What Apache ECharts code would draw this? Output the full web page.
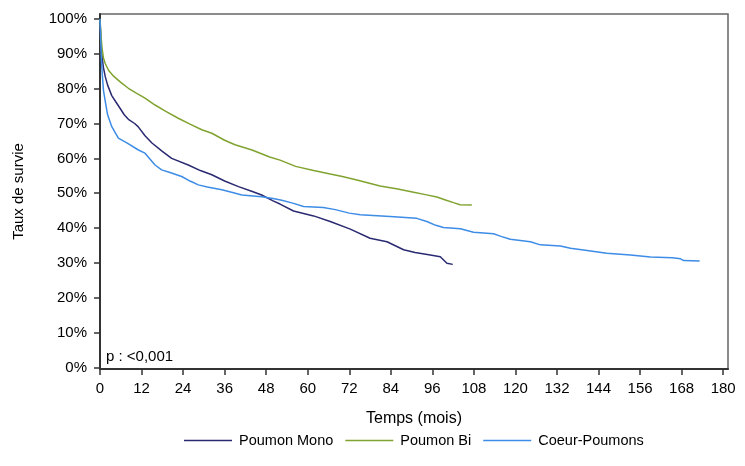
<!DOCTYPE html>
<html>
<head>
<meta charset="utf-8">
<script src="https://cdn.jsdelivr.net/npm/echarts@6/dist/echarts.min.js"></script>
<style>
  html, body { margin: 0; padding: 0; background: #fff; }
  #main { width: 745px; height: 466px; }
</style>
</head>
<body>
<div id="main"></div>
<script>
// survie (%) en fonction du temps (mois)
const monoMonths = [0, 0.3, 0.6, 1, 1.5, 2.2, 3.4, 4.5, 5.5, 7, 8.2, 10, 11, 13, 15, 18, 20.7, 25.5, 29, 32.3, 36, 40, 44, 46.7, 50, 52, 55.9, 61.7, 66.5, 72.3, 78, 82.9, 87.7, 91, 95.4, 98.3, 100.2, 101.9];
const monoSurv   = [100, 93, 89, 86, 83.5, 81, 78, 76.3, 74.8, 72.5, 71.2, 70, 69.1, 66.5, 64.4, 62, 60.0, 58.1, 56.5, 55.3, 53.5, 51.9, 50.5, 49.5, 47.8, 46.9, 44.9, 43.5, 41.9, 39.7, 37.1, 36.1, 33.8, 33.0, 32.3, 31.8, 29.9, 29.6];

const biMonths = [0, 0.3, 0.6, 1, 1.5, 2.5, 4, 6, 8.2, 10.5, 13, 15.9, 19, 22.6, 26, 29.4, 32.3, 36, 39, 43.9, 49, 52, 56.5, 61.7, 66.5, 70, 74.2, 80.9, 86, 90.6, 94, 97.3, 100, 102.1, 104, 107.4];
const biSurv   = [100, 95, 91.5, 88.8, 87.2, 85.2, 83.5, 81.8, 80.1, 78.7, 77.3, 75.3, 73.5, 71.5, 69.8, 68.2, 67.2, 65.2, 63.9, 62.4, 60.4, 59.5, 57.7, 56.5, 55.5, 54.8, 53.8, 52.1, 51.2, 50.3, 49.6, 48.9, 48.0, 47.3, 46.7, 46.6];

const cpMonths = [0, 0.2, 0.4, 0.7, 1, 1.5, 2.2, 3.4, 5.3, 8, 11.1, 13, 15.9, 17.8, 20, 23.6, 26, 28.4, 31, 35.2, 38, 41, 46.7, 50, 52.5, 55.9, 58.8, 64.5, 68, 72, 75.2, 83.8, 91.5, 94.4, 97, 99.2, 104.1, 107.9, 113.7, 115.6, 118.5, 124.3, 127.2, 133, 135.9, 140.7, 146.4, 153.2, 159, 165.3, 167.7, 168.6, 173.2];
const cpSurv   = [100, 94, 88.5, 83.5, 79.5, 76.5, 72.5, 69.1, 65.8, 64.3, 62.4, 61.5, 58.1, 56.7, 56, 54.8, 53.5, 52.4, 51.8, 51.0, 50.3, 49.5, 49.0, 48.5, 48.0, 47.1, 46.2, 45.9, 45.3, 44.3, 43.8, 43.3, 42.8, 41.9, 40.8, 40.2, 39.8, 38.8, 38.4, 37.7, 36.8, 36.1, 35.2, 34.9, 34.2, 33.6, 32.8, 32.3, 31.7, 31.5, 31.2, 30.7, 30.6];

const xTicks = [0, 12, 24, 36, 48, 60, 72, 84, 96, 108, 120, 132, 144, 156, 168, 180];
const yTicks = [0, 10, 20, 30, 40, 50, 60, 70, 80, 90, 100];

const pairs = (t, s) => t.map((v, i) => [v, s[i]]);

const font = 'Liberation Sans, Arial, sans-serif';

const chart = echarts.init(document.getElementById('main'));

const mkSerie = (name, color, data) => ({
  name: name,
  type: 'line',
  data: data,
  symbol: 'none',
  smooth: false,
  color: color,
  lineStyle: { width: 1.5, color: color },
  animation: false
});

chart.setOption({
  animation: false,
  textStyle: { fontFamily: font, color: '#000' },
  grid: {
    left: 100, right: 17, top: 14, bottom: 97,
    show: true, borderColor: '#666', borderWidth: 1.5, backgroundColor: '#fff'
  },
  legend: {
    left: 184,
    top: 433,
    padding: 0,
    icon: 'rect',
    itemWidth: 48,
    itemHeight: 1.5,
    itemGap: 12,
    textStyle: { fontFamily: font, fontSize: 14.5, color: '#000', padding: [0, 0, 0, 2] },
    data: ['Poumon Mono', 'Poumon Bi', 'Coeur-Poumons']
  },
  xAxis: {
    type: 'value',
    min: 0,
    max: 181.4,
    name: 'Temps (mois)',
    nameLocation: 'middle',
    nameGap: 42,
    nameTextStyle: { fontFamily: font, fontSize: 16, color: '#000' },
    axisLine: { show: true, onZero: false, lineStyle: { color: '#333', width: 2 } },
    axisTick: { show: true, length: 6, lineStyle: { color: '#333', width: 1.5 }, customValues: xTicks },
    axisLabel: { fontFamily: font, fontSize: 15, color: '#000', margin: 12, customValues: xTicks },
    splitLine: { show: false }
  },
  yAxis: {
    type: 'value',
    min: -0.4,
    max: 101.4,
    name: 'Taux de survie',
    nameLocation: 'middle',
    nameRotate: 90,
    nameGap: 74,
    nameTextStyle: { fontFamily: font, fontSize: 15, color: '#000' },
    axisLine: { show: true, onZero: false, lineStyle: { color: '#333', width: 2 } },
    axisTick: { show: true, length: 6, lineStyle: { color: '#333', width: 1.5 }, customValues: yTicks },
    axisLabel: { fontFamily: font, fontSize: 15, color: '#000', margin: 13, formatter: '{value}%', customValues: yTicks },
    splitLine: { show: false }
  },
  graphic: [{
    type: 'text',
    x: 106,
    y: 357,
    style: { text: 'p : <0,001', font: '15px ' + font, fill: '#000', verticalAlign: 'middle' }
  }],
  series: [
    mkSerie('Poumon Mono', '#2a2a72', pairs(monoMonths, monoSurv)),
    mkSerie('Poumon Bi', '#80a330', pairs(biMonths, biSurv)),
    mkSerie('Coeur-Poumons', '#3d8ce6', pairs(cpMonths, cpSurv))
  ]
});
</script>
</body>
</html>
